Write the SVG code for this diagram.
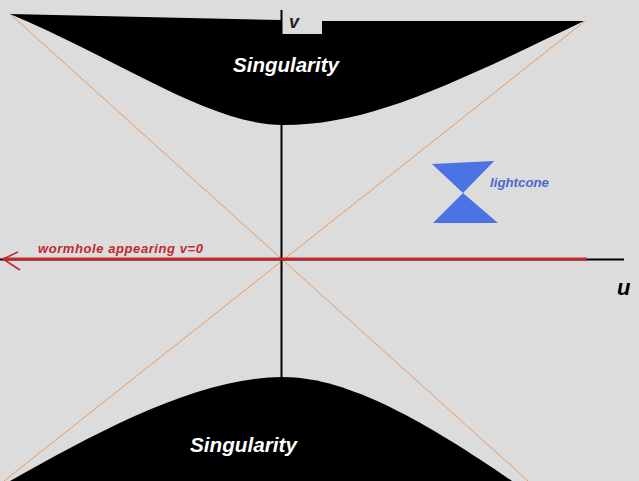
<svg xmlns="http://www.w3.org/2000/svg" width="639" height="481" viewBox="0 0 639 481">
<style>
.lbl{font-family:"Liberation Sans",Arial,sans-serif;font-weight:bold;font-style:italic}
.sing{fill:#ffffff;font-size:20px}
.diag{stroke:#ee9a5a;stroke-width:1;fill:none}
</style>
<rect width="639" height="481" fill="#dcdcdc"/>
<g id="connectors">
<line class="diag" x1="10" y1="14" x2="528" y2="481"/>
<line class="diag" x1="585" y1="21" x2="4" y2="481"/>
<line x1="281.5" y1="10" x2="281.5" y2="378" stroke="#000" stroke-width="2"/>
<line x1="0" y1="259.5" x2="624" y2="259.5" stroke="#000" stroke-width="2"/>
<line x1="3" y1="259" x2="587" y2="259" stroke="#c0282d" stroke-width="3"/>
<polyline points="18,252 3,259 20,270" fill="none" stroke="#c0282d" stroke-width="1.5"/>
</g>
<g id="singularity-top">
<path d="M10,14 L281,20 L282,34 L322,34 L322,21 L584,21 C450,85 370,125 283,125 C210,125 120,60 10,14 Z" fill="#000"/>
<text class="lbl sing" x="233" y="72" textLength="106" lengthAdjust="spacingAndGlyphs">Singularity</text>
</g>
<g id="singularity-bottom">
<path d="M10,481 C100,430 200,377 283,377 C350,377 430,425 512,481 Z" fill="#000"/>
<text class="lbl sing" x="190" y="452" textLength="107" lengthAdjust="spacingAndGlyphs">Singularity</text>
</g>
<g id="axis-labels">
<text class="lbl" x="289" y="28" font-size="18" fill="#222">v</text>
<text class="lbl" x="617" y="295" font-size="22" fill="#000">u</text>
<text class="lbl" x="38" y="253" font-size="13" fill="#c0282d" textLength="165" lengthAdjust="spacing">wormhole appearing v=0</text>
</g>
<g id="lightcone">
<path d="M432,164 L494,161 L497,158 L463,193 L498,223 L433,223 L463,193 Z" fill="#4b73e3"/>
<text class="lbl" x="490" y="187" font-size="13" fill="#4a6ad0" textLength="59" lengthAdjust="spacingAndGlyphs">lightcone</text>
</g>
</svg>
